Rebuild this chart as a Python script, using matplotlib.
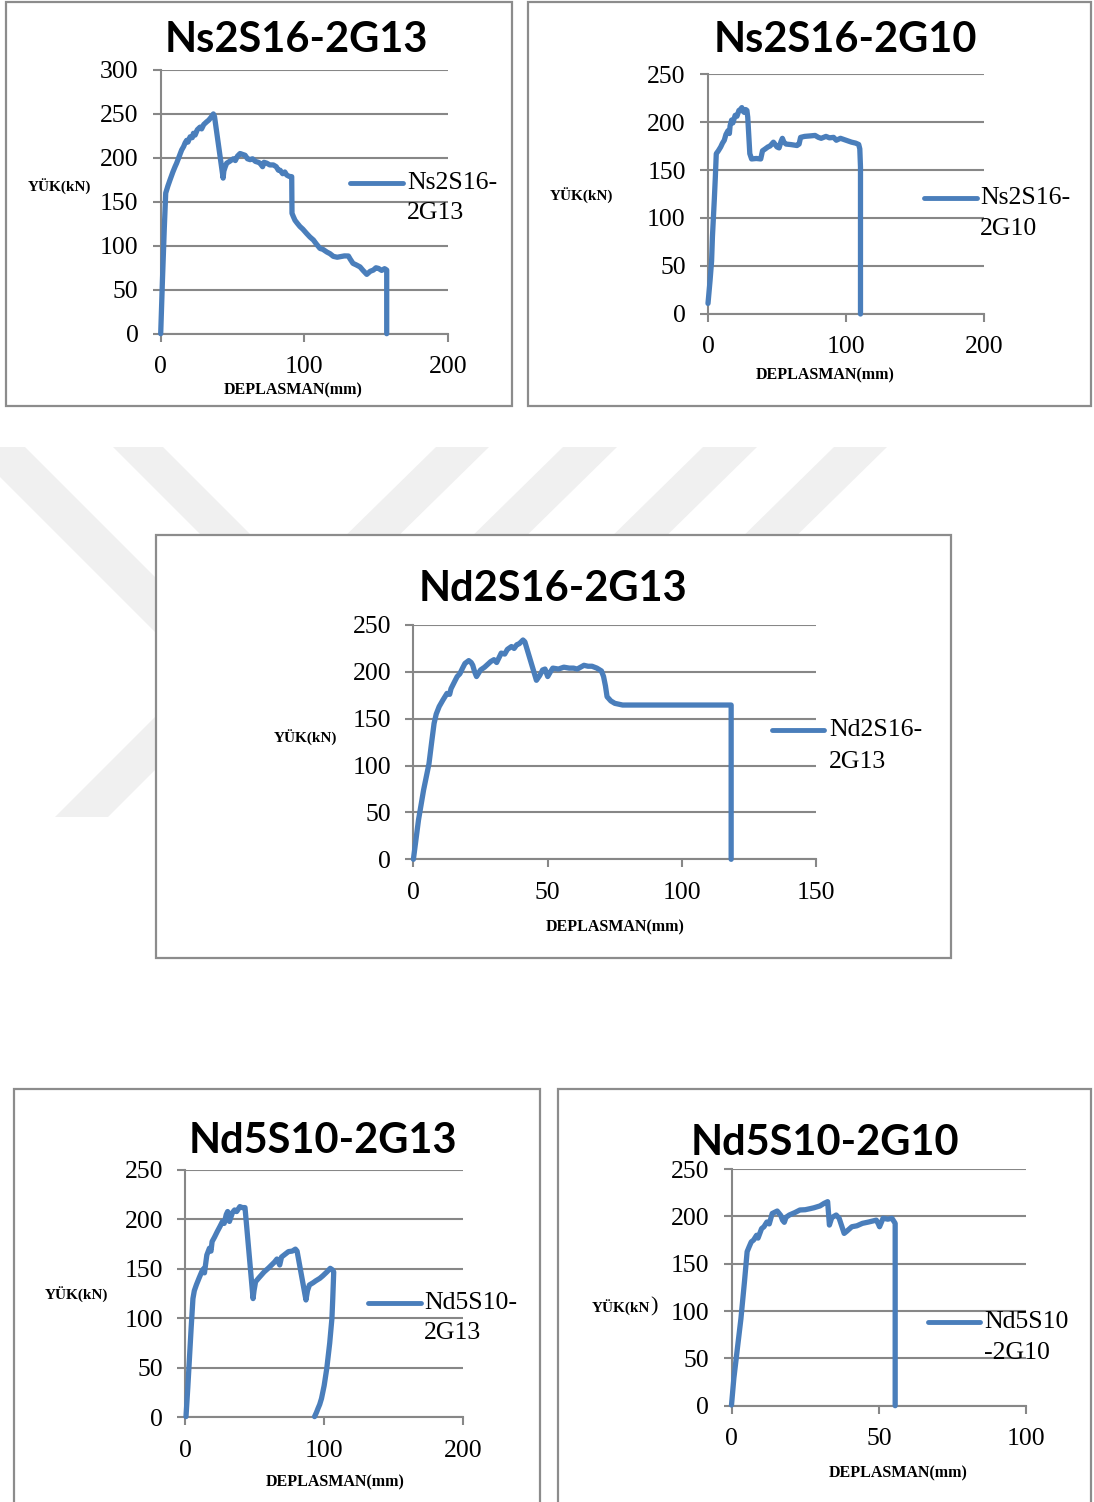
import matplotlib
matplotlib.use('Agg')
import matplotlib.pyplot as plt
from matplotlib.lines import Line2D
from matplotlib.patches import Rectangle, Polygon

W, H = 1094, 1502
BLUE = '#4a7ebb'
GRID = '#878787'
BORDER = '#8c8c8c'
MARK = '#f0f0f0'

# Yük - deplasman verileri (mm, kN)
ns2s16_2g13_x = [0, 1.2, 2.5, 3.5, 5, 6.5, 8.5, 10, 11.1, 12.5, 14.6, 16, 17, 18.1, 19, 20.5, 22, 22.8, 24,
                 25.5, 27.4, 28.5, 30, 32, 33.5, 35, 36.7, 37.5, 43.5, 44, 45, 46, 48, 50.6, 52, 53.5, 55.3,
                 57, 58.8, 60.5, 62.3, 64, 66, 68, 69.2, 71, 72, 73.9, 76, 78.5, 80.5, 82, 83.2, 85, 86.5,
                 87.8, 89.5, 91.3, 91.5, 92.5, 93.6, 95, 97, 99, 101.7, 104, 106.4, 108.5, 111, 113, 115.7,
                 118, 120.3, 123, 125, 128, 130.8, 132, 134, 136, 138.9, 141, 143.6, 146, 148.2, 150, 151.7,
                 154, 156, 157.5, 157.5]
ns2s16_2g13_y = [0, 60, 120, 160, 168, 175, 184, 190, 194, 200, 209, 213, 217, 220, 218, 224, 223, 228, 226,
                 232, 235, 233, 238, 241, 243, 246, 250, 247, 177, 185, 190, 194, 196, 199, 197, 202, 205,
                 204, 203, 199, 198, 199, 196, 195, 194, 190, 195, 194, 192, 192, 190, 186, 186, 182, 184,
                 180.5, 179, 178.6, 137, 133, 129, 126, 122, 119, 114, 110, 106.6, 102, 97, 96, 93,
                 91, 88, 87, 87.6, 88.5, 88.4, 85, 80, 78.5, 76, 72, 67.5, 71, 72.4, 75, 74.3,
                 72, 74, 72.4, 0]

ns2s16_2g10_x = [0, 1.5, 2.6, 3.2, 3.9, 4.6, 5.3, 6, 7.5, 9.2, 10.5, 11.8, 13, 14.5, 15.5, 16, 17.1, 18,
                 19.7, 21, 22.4, 23.5, 24.5, 25.5, 26.3, 27.3, 28.2, 28.8, 30.3, 31.6, 35, 38.2, 39.5, 41.5,
                 43.4, 45, 47.4, 48.5, 50, 51.5, 53, 53.9, 55, 56.6, 60, 64.5, 66, 67.1, 70, 74, 77.6, 80,
                 82, 85.5, 88, 91, 93, 96, 100, 104, 107, 109.2, 110, 110.5, 110.5]
ns2s16_2g10_y = [11, 35, 55, 80, 100, 120, 142, 167, 170, 174, 178, 181, 187, 191, 188, 196, 202, 199,
                 207, 206, 212, 213, 215, 211, 210, 213, 212, 205, 167, 161.5, 162, 161.5, 170, 172,
                 174, 175, 179, 177, 174, 173, 180, 183, 179, 177, 176.5, 175.5, 177, 184, 185, 185.5, 186, 184,
                 183, 185, 183.5, 184, 181, 183, 181, 179, 178, 176.6, 172, 153, 0]

nd2s16_2g13_x = [0, 1.9, 3.8, 5.8, 6.8, 7.7, 8.5, 9.6, 11, 12.5, 13.5, 14, 15.4, 16.3, 17.3, 18.3, 19.2,
                 20.6, 21.5, 22.1, 22.8, 23.5, 25, 26.5, 28.8, 30, 31, 32.7, 34, 35, 36.5, 37.5, 38.5, 39.4,
                 40.8, 41.5, 45.8, 47, 48.1, 49, 50, 51, 51.9, 54, 56, 58, 59.6, 61, 63.5, 65, 66.5, 68.3,
                 70, 70.8, 71.5, 72.1, 73.5, 75, 77.9, 118.3, 118.3]
nd2s16_2g13_y = [0, 42, 74, 102, 125, 145, 155, 163, 170, 177, 176, 182, 190, 195, 198, 204, 209,
                 212, 210, 207, 200, 195, 202, 205, 211, 213, 210, 220, 219, 224, 227, 225, 229, 230,
                 234, 232, 191, 196, 202, 203, 195, 200, 204, 203, 205, 204, 204, 203, 207, 206, 206, 204,
                 201, 195, 185, 173.5, 169, 166.4, 164.6, 164.6, 0]

nd5s10_2g13_x = [0.5, 1.8, 3, 4.2, 5.5, 6.5, 8, 10, 11.8, 13, 13.8, 15.5, 17.4, 18.5, 19.3, 21, 23, 25,
                 26.8, 28, 29.5, 30.5, 31.2, 31.8, 33, 34, 35.5, 37, 39.3, 41, 43, 48.8, 49.5, 50.6, 53,
                 56.8, 60, 64.3, 66, 68, 69.3, 72, 74.3, 77, 79.3, 80.5, 86.9, 88, 89.4, 92, 94, 96.9, 99,
                 102, 104.4, 106, 106.9, 106.2, 105.6, 104, 101.9, 100, 98.1, 96.8, 95.6, 94.5, 93.1]
nd5s10_2g13_y = [0.7, 30, 60, 90, 120, 128, 134, 141, 147, 150, 146, 164, 171, 168, 177.6, 182, 187.7, 193,
                 198, 196, 205, 208, 202, 198, 203, 207, 209.6, 208, 213, 212, 212, 120, 128, 137, 141,
                 147, 151, 157, 160, 154, 162, 165, 167.5, 168, 170, 168, 118.6, 128, 133.8, 136, 138, 140.5, 143,
                 147, 150.6, 149, 147, 120, 100, 75, 49.5, 32, 19, 13, 9, 5, 0.7]

nd5s10_2g10_x = [0, 0.8, 2, 3.2, 4.4, 5.3, 6, 6.7, 7.5, 8.5, 9, 10.2, 11, 12, 12.8, 13.8, 15.5, 16.7, 17.3,
                 17.9, 18.5, 19.6, 21.5, 23.2, 25, 26.5, 27.9, 30, 31.4, 32.6, 33.2, 34, 35.5, 36.5, 38.2,
                 39, 40.8, 42.5, 44.4, 46.5, 49.1, 49.8, 50.2, 51.4, 53, 54.4, 55.5, 55.5]
nd5s10_2g10_y = [0.7, 29, 60.6, 92, 131, 162.7, 168, 173, 175, 180, 177, 187, 189, 194, 192, 203, 205.6, 201, 196,
                 193.7, 199, 201.4, 204, 206.7, 207, 208, 209, 211, 213.7, 215.5, 190.8, 198.6, 201.4, 198, 182,
                 184, 189, 190, 192.6, 194, 196, 192, 189, 198, 197, 198, 192.6, 0]

titles = ['Ns2S16-2G13', 'Ns2S16-2G10', 'Nd2S16-2G13', 'Nd5S10-2G13', 'Nd5S10-2G10']
legend_labels = ['Ns2S16-\n2G13', 'Ns2S16-\n2G10', 'Nd2S16-\n2G13', 'Nd5S10-\n2G13', 'Nd5S10\n-2G10']
x_ticks = [[0, 100, 200], [0, 100, 200], [0, 50, 100, 150], [0, 100, 200], [0, 50, 100]]
y_ticks = [[0, 50, 100, 150, 200, 250, 300], [0, 50, 100, 150, 200, 250], [0, 50, 100, 150, 200, 250],
           [0, 50, 100, 150, 200, 250], [0, 50, 100, 150, 200, 250]]
series_x = [ns2s16_2g13_x, ns2s16_2g10_x, nd2s16_2g13_x, nd5s10_2g13_x, nd5s10_2g10_x]
series_y = [ns2s16_2g13_y, ns2s16_2g10_y, nd2s16_2g13_y, nd5s10_2g13_y, nd5s10_2g10_y]
y_label = 'YÜK(kN)'
x_label = 'DEPLASMAN(mm)'

# Yerleşim (piksel): çerçeve, grafik alanı, başlık, eksen yazıları, lejant
layout = [
    dict(box=(6, 2, 512, 406), ax=(160.7, 70, 447.7, 333.7), title=(296, 52),
         ylab=(59, 187), xlab=(293, 390), leg=(350, 403, 183, 407, 213)),
    dict(box=(528, 2, 1091, 406), ax=(708, 74, 984, 314), title=(845, 52),
         ylab=(581, 196), xlab=(825, 375), leg=(924, 977, 198, 980, 229)),
    dict(box=(156, 535, 951, 958), ax=(413.4, 625, 816.3, 859.3), title=(553, 601),
         ylab=(305, 738), xlab=(615, 927), leg=(772, 824, 730, 829, 762)),
    dict(box=(14, 1089, 540, 1530), ax=(185.3, 1170, 463, 1417.3), title=(323, 1153),
         ylab=(76, 1295), xlab=(335, 1482), leg=(368, 421, 1303, 424, 1333)),
    dict(box=(558, 1089, 1091, 1530), ax=(731.5, 1169, 1026.4, 1405.7), title=(825, 1155),
         ylab=(620, 1308), xlab=(898, 1473), leg=(928, 980, 1322, 984, 1353)),
]

# Arka plandaki soluk filigran şeritleri
watermark = [
    [(-30, 447), (25, 447), (400, 822), (345, 822)],
    [(113, 447), (163, 447), (400, 684), (350, 684)],
    [(55, 817), (108, 817), (300, 625), (247, 625)],
    [(436, 447), (489, 447), (333, 600), (280, 600)],
    [(563, 447), (617, 447), (461, 600), (407, 600)],
    [(703, 447), (757, 447), (601, 600), (547, 600)],
    [(834, 447), (887, 447), (731, 600), (678, 600)],
]


def fx(px):
    return px / W


def fy(py):
    return 1 - py / H


def draw_panel(fig, i):
    lay = layout[i]
    l, t, r, b = lay['box']
    fig.add_artist(Rectangle((fx(l), fy(b)), (r - l) / W, (b - t) / H, transform=fig.transFigure,
                             facecolor='white', edgecolor=BORDER, lw=1.6, zorder=-1))

    l, t, r, b = lay['ax']
    ax = fig.add_axes([fx(l), fy(b), (r - l) / W, (b - t) / H])
    ax.set_facecolor('none')
    ax.plot(series_x[i], series_y[i], color=BLUE, lw=3.8, solid_joinstyle='round',
            solid_capstyle='round', clip_on=False, zorder=3)
    ax.set_xlim(x_ticks[i][0], x_ticks[i][-1])
    ax.set_ylim(y_ticks[i][0], y_ticks[i][-1])
    ax.set_xticks(x_ticks[i])
    ax.set_yticks(y_ticks[i])
    ax.grid(axis='y', color=GRID, lw=1.5)
    ax.set_axisbelow(True)
    for side in ['top', 'right']:
        ax.spines[side].set_visible(False)
    for side in ['left', 'bottom']:
        ax.spines[side].set_color(GRID)
        ax.spines[side].set_linewidth(1.5)
    ax.tick_params(axis='x', direction='out', length=6, width=1.5, color=GRID, pad=10, labelsize=18.5)
    ax.tick_params(axis='y', direction='out', length=6, width=1.5, color=GRID, pad=10, labelsize=18.5)

    cx, cy = lay['title']
    fig.text(fx(cx), fy(cy), titles[i], ha='center', va='baseline', fontsize=30,
             fontweight='bold', family=['Lato', 'DejaVu Sans'])

    cx, cy = lay['ylab']
    if i == 4:
        # son grafikte kapanan parantez daha iri yazılmış
        fig.text(fx(cx + 30), fy(cy), y_label[:-1], ha='right', va='center', fontsize=11, fontweight='bold')
        fig.text(fx(cx + 30), fy(cy - 1), y_label[-1], ha='left', va='center', fontsize=16)
    else:
        fig.text(fx(cx), fy(cy), y_label, ha='center', va='center', fontsize=11, fontweight='bold')

    cx, cy = lay['xlab']
    fig.text(fx(cx), fy(cy), x_label, ha='center', va='center', fontsize=11.5, fontweight='bold')

    x0, x1, ly, tx, ly2 = lay['leg']
    fig.add_artist(Line2D([fx(x0), fx(x1)], [fy(ly), fy(ly)], transform=fig.transFigure,
                          color=BLUE, lw=3.5, solid_capstyle='round'))
    first, second = legend_labels[i].split('\n')
    fig.text(fx(tx), fy(ly), first, ha='left', va='center', fontsize=18.5)
    fig.text(fx(tx), fy(ly2), second, ha='left', va='center', fontsize=18.5)


def main():
    plt.rcParams['font.family'] = ['Liberation Serif', 'DejaVu Serif']
    fig = plt.figure(figsize=(W / 100, H / 100), dpi=100)
    fig.patch.set_facecolor('white')

    for pts in watermark:
        fig.add_artist(Polygon([(fx(x), fy(y)) for x, y in pts], closed=True, transform=fig.transFigure,
                               facecolor=MARK, edgecolor='none', zorder=-2))

    for i in range(len(titles)):
        draw_panel(fig, i)

    fig.savefig('out.png', dpi=100)


if __name__ == '__main__':
    main()
